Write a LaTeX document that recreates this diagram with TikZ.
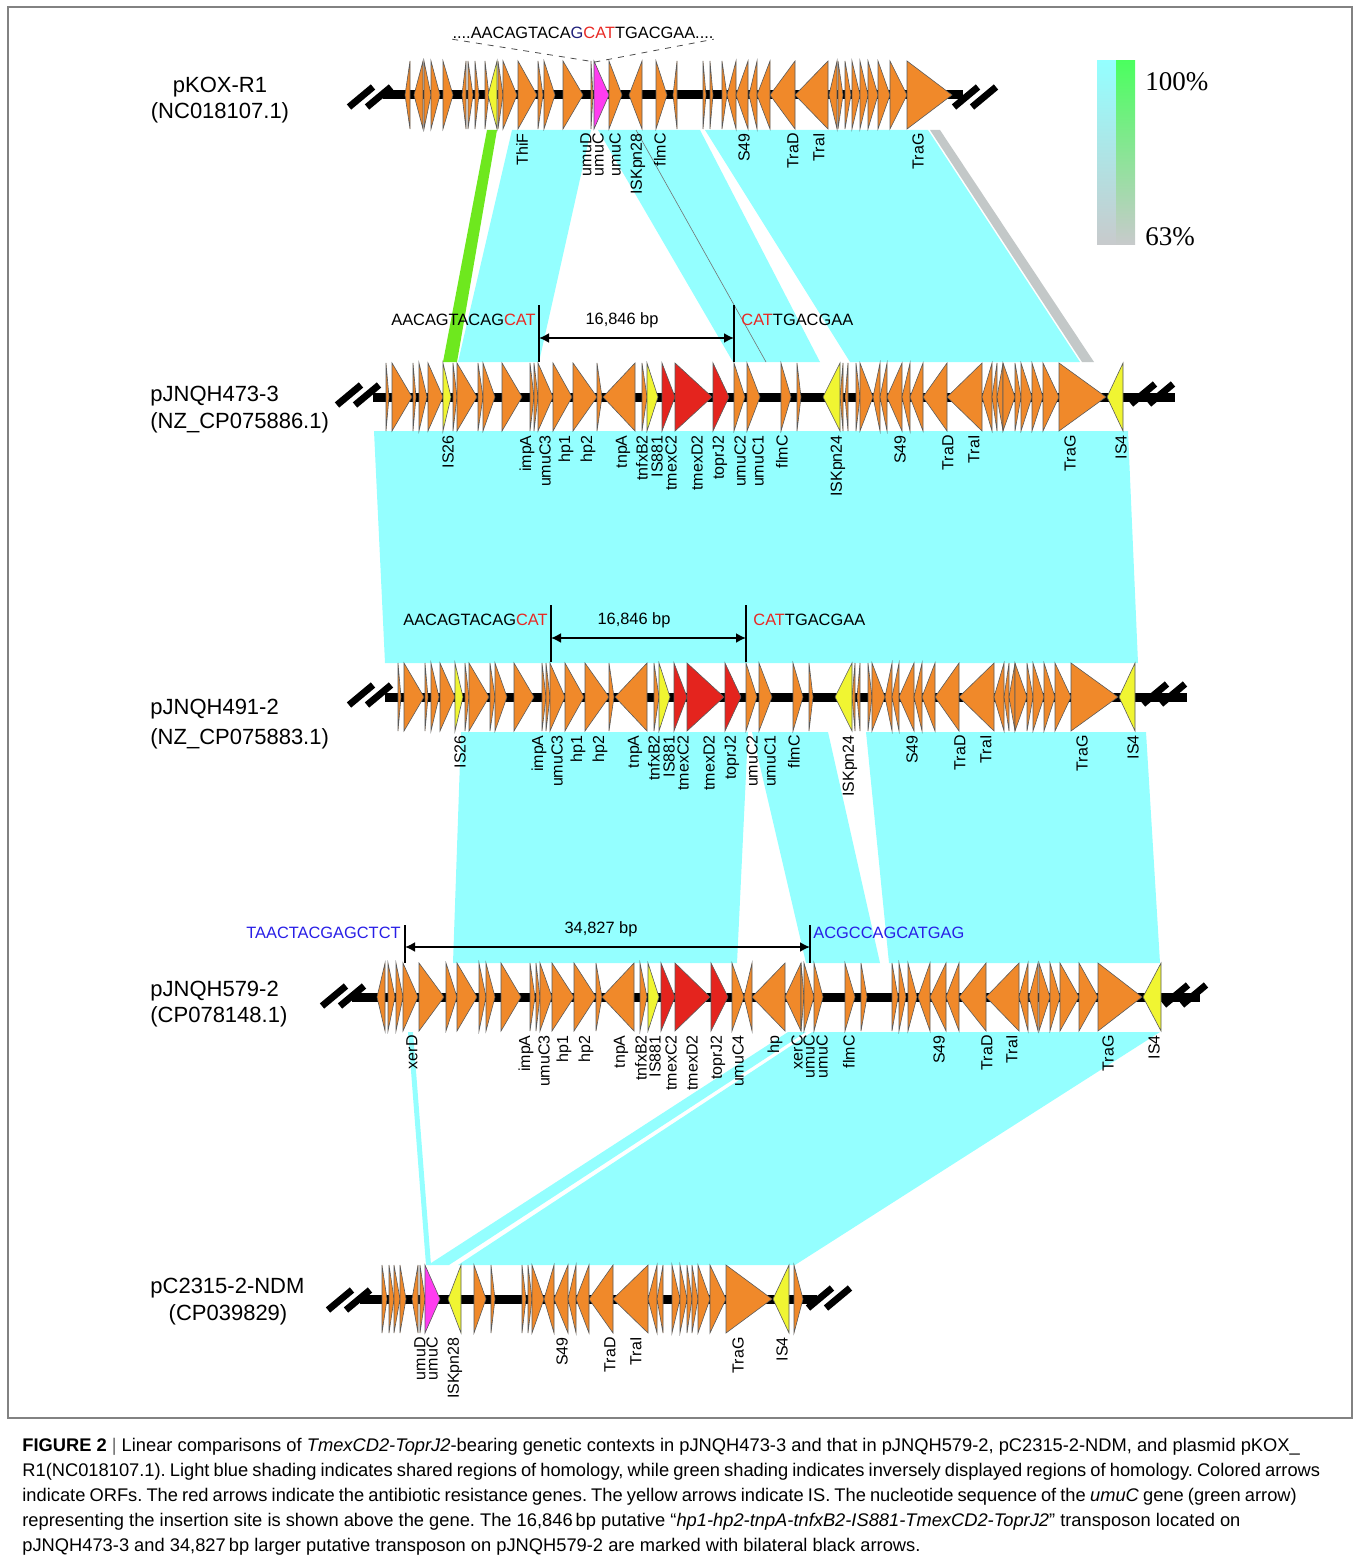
\documentclass[tikz,border=0pt]{standalone}
\usepackage{fontspec}
\setmainfont{Liberation Sans}
\newfontfamily\legendfont{Liberation Serif}
\usetikzlibrary{arrows.meta,positioning}

\definecolor{orfcol}{RGB}{240,137,42}
\definecolor{iscol}{RGB}{240,245,50}
\definecolor{argcol}{RGB}{228,36,30}
\definecolor{umucol}{RGB}{255,60,240}
\definecolor{orfline}{RGB}{90,90,90}
\definecolor{homcyan}{RGB}{148,255,255}
\definecolor{homgreen}{RGB}{110,232,30}
\definecolor{homgray}{RGB}{195,200,200}
\definecolor{scalegreen}{RGB}{75,255,95}
\definecolor{scalegray}{RGB}{200,202,204}
\definecolor{seqred}{RGB}{232,40,35}
\definecolor{seqblue}{RGB}{40,30,230}
\definecolor{seqnavy}{RGB}{30,30,120}
\definecolor{framegray}{RGB}{130,130,130}

% one pJNQH row, drawn at y=397 (shifted for the second copy)
\newcommand{\jnqhrow}[1]{%
  \draw[backbone] (373,397) -- (1175,397);
  \foreach \b/\t in {386/389, 392/412, 413/416, 419/427, 428/443, 453/457,
      457/477, 478/483, 483/495, 502/522, 530/534, 534/538, 538/553, 553/572,
      573/597, 597/602, 635/603, 642/647, 734/745, 747/760, 781/791, 797/801,
      843/840, 848/845, 856/860, 860/873, 880/873, 887/880, 902/887, 910/902,
      923/910, 947/923, 982/947, 992/982, 997/992, 1003/997, 1003/1015,
      1015/1021, 1021/1032, 1032/1043, 1043/1059, 1059/1106}
    \filldraw[orf, fill=orfcol] (\b,363) -- (\t,397) -- (\b,431) -- cycle;
  \foreach \b/\t in {443/451, 647/658, 840/823, 1123/1107}
    \filldraw[orf, fill=iscol] (\b,363) -- (\t,397) -- (\b,431) -- cycle;
  \foreach \b/\t in {662/675, 675/712, 713/729}
    \filldraw[orf, fill=argcol] (\b,363) -- (\t,397) -- (\b,431) -- cycle;
  \cutmarks{349}{395}
  \cutmarks{1143}{394}
  \foreach \x/\t [count=\i] in {448/IS26, 527/impA, 545/umuC3, 566/hp1,
      588/hp2, 623/tnpA, 642/tnfxB2, 657/IS881, 671/tmexC2, 697/tmexD2,
      720/toprJ2, 740/umuC2, 758/umuC1, 782/flmC, 838/ISKpn24, 900/S49,
      948/TraD, 974/TraI, 1070/TraG, 1121/IS4}
    \node[genelabel] (#1-\i) at (\x,435) {\t};
  % transposon ends
  \coordinate (#1-lt) at (539,305);
  \coordinate (#1-lb) at (539,362);
  \coordinate (#1-rt) at (734,305);
  \coordinate (#1-rb) at (734,362);
  \draw[endbar] (#1-lt) -- (#1-lb);
  \draw[endbar] (#1-rt) -- (#1-rb);
  \coordinate (#1-l) at (539,338);
  \coordinate (#1-r) at (734,338);
  \draw[bpspan] (#1-l) -- (#1-r);
  \node[seqtext, anchor=east] (#1-site1) at (536,320) {AACAGTACAG\textcolor{seqred}{CAT}};
  \node[seqtext] (#1-len) at (622,320) {16,846 bp};
  \node[seqtext, anchor=west] (#1-site2) at (741,320) {\textcolor{seqred}{CAT}TGACGAA};
}

\newcommand{\cutmarks}[2]{%
  \draw[breakmark] (#1-12,#2+10) -- (#1+12,#2-10);
  \draw[breakmark] (#1+6,#2+10) -- (#1+30,#2-10);
}

\newcommand{\tightspace}{\spaceskip=2.05pt plus 1pt\relax}

\begin{document}
\frenchspacing
\begin{tikzpicture}[
  x=0.5pt, y=-0.5pt,
  orf/.style={draw=orfline, line width=0.3pt},
  backbone/.style={line width=4.5pt, black},
  breakmark/.style={line width=3.4pt, black},
  genelabel/.style={rotate=90, anchor=east, font=\fontsize{8}{9}\selectfont, inner sep=0pt},
  plasmid/.style={font=\fontsize{11}{13}\selectfont, inner sep=0pt},
  seqtext/.style={font=\fontsize{8.2}{9}\selectfont, inner sep=0pt},
  endbar/.style={line width=0.8pt},
  bpspan/.style={{Latex[length=5pt,width=5pt]}-{Latex[length=5pt,width=5pt]}, line width=0.9pt},
  insline/.style={dashed, line width=0.4pt, black!70},
  pctlabel/.style={anchor=west, font=\legendfont\fontsize{13.5}{15}\selectfont, inner sep=0pt},
  captionline/.style={anchor=west, font=\fontsize{9.15}{10}\selectfont, inner sep=0pt}
]
\useasboundingbox (0,0) rectangle (1354,1562);
\draw[framegray, line width=0.7pt] (8,7) rectangle (1352,1418);

% homology blocks
\fill[homgreen] (487,130) -- (497,130) -- (457,362) -- (443,362) -- cycle;
\fill[homcyan] (512,130) -- (591,130) -- (539,362) -- (458,362) -- cycle;
\fill[homcyan] (598,130) -- (700,130) -- (820,362) -- (733,362) -- cycle;
\draw[black!55, line width=0.3pt] (636,130) -- (766,362);
\fill[homcyan] (705,130) -- (928,130) -- (1080,362) -- (850,362) -- cycle;
\fill[homgray] (930,130) -- (940,130) -- (1094,362) -- (1082,362) -- cycle;
\fill[homcyan] (374,431) -- (1128,431) -- (1138,663) -- (385,663) -- cycle;
\fill[homcyan] (461,732) -- (748,732) -- (737,963) -- (453,963) -- cycle;
\fill[homcyan] (752,732) -- (828,732) -- (880,963) -- (806,963) -- cycle;
\fill[homcyan] (866,732) -- (1146,732) -- (1160,963) -- (889,963) -- cycle;
\fill[homcyan] (408,1032) -- (413,1032) -- (431,1265) -- (426,1265) -- cycle;
\fill[homcyan] (788,1032) -- (806,1032) -- (449,1265) -- (428,1265) -- cycle;
\fill[homcyan] (812,1032) -- (1160,1032) -- (795,1265) -- (458,1265) -- cycle;

% pKOX-R1
\node[plasmid] (pkox) at (220,87) {pKOX-R1};
\node[plasmid] (pkoxid) at (220,113) {(NC018107.1)};
\draw[backbone] (383,95) -- (963,95);
\foreach \b/\t in {410/405, 423/414, 424/431, 431/440, 443/453, 466/462,
    468/473, 475/479, 485/489, 498/503, 503/517, 518/537, 538/543, 544/555,
    563/583, 591/593, 609/622, 642/629, 656/667, 677/673, 703/706, 710/713,
    722/727, 736/727, 748/736, 757/749, 770/757, 795/770, 828/795, 837/829,
    838/843, 845/851, 852/860, 860/868, 868/878, 878/890, 890/907, 907/952}
  \filldraw[orf, fill=orfcol] (\b,61) -- (\t,95) -- (\b,129) -- cycle;
\filldraw[orf, fill=iscol] (497,61) -- (488,95) -- (497,129) -- cycle;
\filldraw[orf, fill=umucol] (594,61) -- (609,95) -- (594,129) -- cycle;
\cutmarks{361}{97}
\cutmarks{966}{97}
\foreach \x/\t [count=\i] in {522/ThiF, 586/umuD, 598/umuC, 615/umuC,
    638/ISKpn28, 660/flmC, 744/S49, 793/TraD, 819/TraI, 918/TraG}
  \node[genelabel] (kox-\i) at (\x,133) {\t};
\node[seqtext] (kox-site) at (583,33) {....AACAGTACA\textcolor{seqnavy}{G}\textcolor{seqred}{CAT}TGACGAA....};
\coordinate (kox-ins) at (595,62);
\draw[insline] (kox-site.south west) -- (kox-ins) -- (kox-site.south east);

% pJNQH473-3 and pJNQH491-2
\node[plasmid, anchor=west] (jnqh473) at (150,396) {pJNQH473-3};
\node[plasmid, anchor=west] (jnqh473id) at (150,423) {(NZ\_CP075886.1)};
\jnqhrow{r2}
\node[plasmid, anchor=west] (jnqh491) at (150,709) {pJNQH491-2};
\node[plasmid, anchor=west] (jnqh491id) at (150,739) {(NZ\_CP075883.1)};
\begin{scope}[shift={(12,300)}]
  \jnqhrow{r3}
\end{scope}

% pJNQH579-2
\node[plasmid, anchor=west] (jnqh579) at (150,991) {pJNQH579-2};
\node[plasmid, anchor=west] (jnqh579id) at (150,1017) {(CP078148.1)};
\draw[backbone] (352,997) -- (1200,997);
\foreach \b/\t in {385/377, 388/395, 396/403, 403/418, 419/444, 446/457,
    457/477, 479/486, 486/495, 501/521, 530/535, 536/540, 540/552, 552/574,
    574/596, 596/602, 634/602, 640/647, 732/744, 752/744, 785/752, 801/785,
    801/804, 804/814, 814/823, 845/855, 861/867, 892/898, 899/906, 908/917,
    930/918, 946/930, 959/946, 986/959, 1019/986, 1028/1019, 1038/1029,
    1039/1050, 1050/1060, 1060/1079, 1079/1098, 1098/1142}
  \filldraw[orf, fill=orfcol] (\b,963) -- (\t,997) -- (\b,1031) -- cycle;
\foreach \b/\t in {648/659, 1161/1143}
  \filldraw[orf, fill=iscol] (\b,963) -- (\t,997) -- (\b,1031) -- cycle;
\foreach \b/\t in {661/675, 675/710, 711/728}
  \filldraw[orf, fill=argcol] (\b,963) -- (\t,997) -- (\b,1031) -- cycle;
\cutmarks{334}{996}
\cutmarks{1176}{995}
\foreach \x/\t [count=\i] in {412/xerD, 526/impA, 544/umuC3, 564/hp1,
    586/hp2, 621/tnpA, 641/tnfxB2, 655/IS881, 671/tmexC2, 692/tmexD2,
    718/toprJ2, 738/umuC4, 775/hp, 797/xerC, 809/umuC, 822/umuC, 849/flmC,
    939/S49, 987/TraD, 1012/TraI, 1108/TraG, 1154/IS4}
  \node[genelabel] (r4-\i) at (\x,1035) {\t};
\coordinate (r4-lt) at (405,925);
\coordinate (r4-lb) at (405,963);
\coordinate (r4-rt) at (810,925);
\coordinate (r4-rb) at (810,963);
\draw[endbar] (r4-lt) -- (r4-lb);
\draw[endbar] (r4-rt) -- (r4-rb);
\coordinate (r4-l) at (405,947);
\coordinate (r4-r) at (810,947);
\draw[bpspan] (r4-l) -- (r4-r);
\node[seqtext, anchor=east, text=seqblue] (r4-site1) at (401,933) {TAACTACGAGCTCT};
\node[seqtext] (r4-len) at (601,929) {34,827 bp};
\node[seqtext, anchor=west, text=seqblue] (r4-site2) at (813,933) {ACGCCAGCATGAG};

% pC2315-2-NDM
\node[plasmid, anchor=west] (c2315) at (150,1288) {pC2315-2-NDM};
\node[plasmid] (c2315id) at (228,1315) {(CP039829)};
\draw[backbone] (360,1299) -- (817,1299);
\foreach \b/\t in {382/387, 389/394, 394/400, 400/406, 418/412, 420/425,
    474/486, 491/495, 522/526, 528/532, 532/544, 554/544, 568/554, 576/568,
    589/576, 613/589, 648/613, 657/648, 663/657, 672/680, 680/687, 687/692,
    692/698, 698/710, 710/726, 726/772, 794/803}
  \filldraw[orf, fill=orfcol] (\b,1265) -- (\t,1299) -- (\b,1333) -- cycle;
\foreach \b/\t in {461/448, 789/773}
  \filldraw[orf, fill=iscol] (\b,1265) -- (\t,1299) -- (\b,1333) -- cycle;
\filldraw[orf, fill=umucol] (425,1265) -- (440,1299) -- (425,1333) -- cycle;
\cutmarks{340}{1300}
\cutmarks{820}{1298}
\foreach \x/\t [count=\i] in {420/umuD, 432/umuC, 455/ISKpn28, 562/S49,
    610/TraD, 636/TraI, 738/TraG, 782/IS4}
  \node[genelabel] (r5-\i) at (\x,1337) {\t};

% identity scale
\shade[top color=homcyan, bottom color=scalegray] (1097,61) rectangle (1116,245);
\shade[top color=scalegreen, bottom color=scalegray] (1116,61) rectangle (1135,245);
\node[pctlabel] (pct100) at (1145,82) {100\%};
\node[pctlabel] (pct63) at (1145,237) {63\%};

% caption
\node[captionline] (cap1) at (22,1447) {\textbf{FIGURE 2} {\color{black!60}|} Linear comparisons of \textit{TmexCD2-ToprJ2}-bearing genetic contexts in pJNQH473-3 and that in pJNQH579-2, pC2315-2-NDM, and plasmid pKOX\_};
\node[captionline] (cap2) at (22,1472) {\tightspace R1(NC018107.1). Light blue shading indicates shared regions of homology, while green shading indicates inversely displayed regions of homology. Colored arrows};
\node[captionline] (cap3) at (22,1497) {\tightspace indicate ORFs. The red arrows indicate the antibiotic resistance genes. The yellow arrows indicate IS. The nucleotide sequence of the \textit{umuC} gene (green arrow)};
\node[captionline] (cap4) at (22,1522) {representing the insertion site is shown above the gene. The 16,846\,bp putative “\textit{hp1-hp2-tnpA-tnfxB2-IS881-TmexCD2-ToprJ2}” transposon located on};
\node[captionline] (cap5) at (22,1547) {pJNQH473-3 and 34,827\,bp larger putative transposon on pJNQH579-2 are marked with bilateral black arrows.};
\end{tikzpicture}
\end{document}
